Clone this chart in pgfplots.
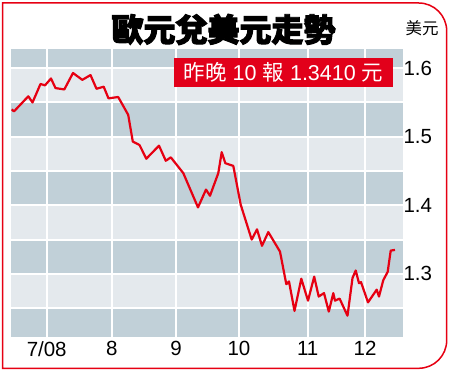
\documentclass[border=0pt]{standalone}
\usepackage{pgfplots}
\pgfplotsset{compat=1.18}
\usepackage{fontspec}
\setmainfont{Liberation Sans}
\newfontfamily\cjk{Noto Sans CJK TC}
\newfontfamily\cjkheavy{Noto Sans CJK TC}[FakeBold=3]
\definecolor{bandblue}{RGB}{193,208,216}
\definecolor{bandlight}{RGB}{228,233,237}
\definecolor{linered}{RGB}{230,0,18}
\definecolor{boxred}{RGB}{226,0,26}
\begin{document}
\begin{tikzpicture}
\begin{axis}[
  at={(11pt,34pt)}, anchor=south west,
  width=392pt, height=288pt, scale only axis,
  set layers,
  xmin=11, xmax=403, ymin=1.208, ymax=1.628,
  axis line style={draw=none},
  xtick={46.7,111.7,176,239,307.7,365},
  xticklabels={7/08,8,9,10,11,12},
  ytick={1.3,1.4,1.5,1.6},
  yticklabels={1.3,1.4,1.5,1.6},
  minor ytick={1.25,1.35,1.45,1.55},
  yticklabel pos=right,
  grid=both,
  major grid style={white, line width=2pt},
  minor grid style={white, line width=2pt},
  tick style={draw=none},
  ticklabel style={font=\fontsize{20.5}{21}\selectfont},
  yticklabel style={xshift=-3pt},
  xticklabel style={yshift=-1pt},
]
\addplot[on layer=axis background, fill=bandblue, draw=none] coordinates {(11,1.208) (403,1.208) (403,1.628) (11,1.628)} -- cycle;
\addplot[on layer=axis background, fill=bandlight, draw=none] coordinates {(11,1.25) (403,1.25) (403,1.30) (11,1.30)} -- cycle;
\addplot[on layer=axis background, fill=bandlight, draw=none] coordinates {(11,1.35) (403,1.35) (403,1.40) (11,1.40)} -- cycle;
\addplot[on layer=axis background, fill=bandlight, draw=none] coordinates {(11,1.45) (403,1.45) (403,1.50) (11,1.50)} -- cycle;
\addplot[on layer=axis background, fill=bandlight, draw=none] coordinates {(11,1.55) (403,1.55) (403,1.60) (11,1.60)} -- cycle;
\addplot[linered, line width=2.2pt, line join=round] coordinates {
(11.7,1.540) (14,1.537) (28.3,1.559) (32.5,1.550) (40.5,1.577) (45,1.575)
(51,1.585) (55.5,1.571) (64.3,1.569) (73,1.593) (82.3,1.583) (90.5,1.590)
(96.5,1.570) (103.7,1.573) (108.5,1.556) (118.2,1.558) (128.2,1.532)
(132.8,1.493) (139.5,1.488) (146.3,1.468) (159,1.487) (165.8,1.465)
(170.8,1.470) (183.3,1.447) (198,1.397) (206,1.423) (210,1.414)
(218.3,1.447) (221.7,1.4775) (225.3,1.4615) (233.3,1.4575) (240.7,1.401)
(251.7,1.350) (257,1.365) (262,1.341) (268.3,1.361) (280,1.3325)
(286.3,1.285) (289,1.289) (294.5,1.246) (301.3,1.293) (308,1.261)
(314.2,1.296) (318.7,1.267) (324,1.272) (328.8,1.245) (333.3,1.272)
(335,1.261) (339.6,1.264) (347.5,1.239) (352.5,1.294) (355.7,1.305)
(359,1.2865) (361,1.288) (368,1.2585) (376.7,1.277) (379,1.267)
(383.3,1.291) (387.7,1.303) (390.7,1.334) (395,1.335)
};
\end{axis}
\draw[linered, line width=1.5pt] (2.7pt,368pt) -- (418.7pt,368pt) arc[start angle=90, end angle=0, radius=28pt] -- (446.7pt,30.7pt) arc[start angle=0, end angle=-90, radius=28pt] -- (2.7pt,2.7pt) -- cycle;
\node at (223.5pt,341.5pt) {\cjkheavy\bfseries\fontsize{32}{32}\selectfont 歐元兌美元走勢};
\node at (422pt,342.5pt) {\cjk\fontsize{16.5}{16.5}\selectfont 美元};
\node[fill=boxred, text=white, minimum width=219pt, minimum height=29pt, inner sep=0pt] at (283.5pt,298.5pt)
  {\fontsize{21.5}{21.5}\selectfont{\cjk 昨晚} 10 {\cjk 報} 1.3410 {\cjk 元}};
\pgfresetboundingbox
\useasboundingbox (0pt,0pt) rectangle (450pt,371pt);
\end{tikzpicture}
\end{document}
